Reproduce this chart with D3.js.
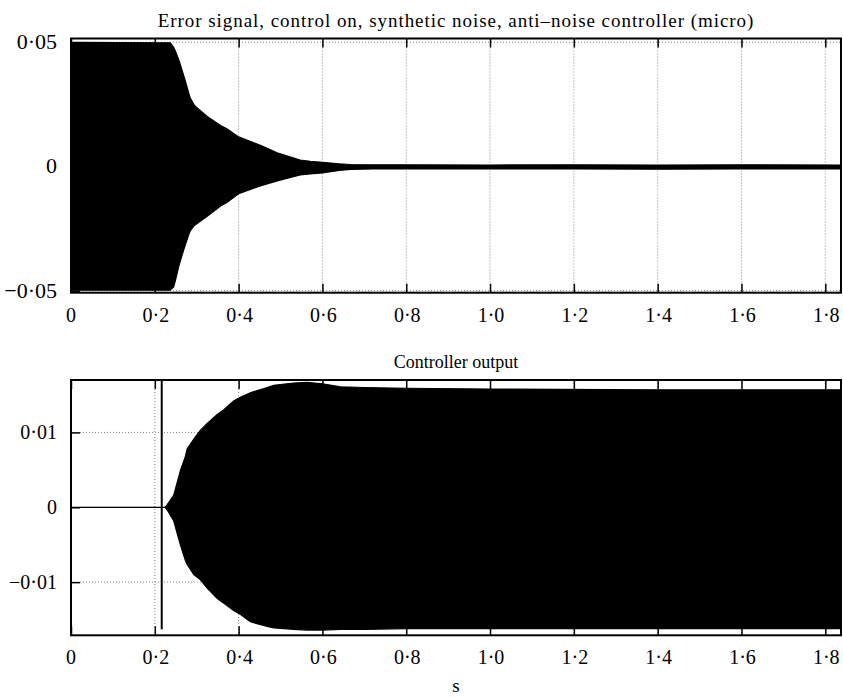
<!DOCTYPE html>
<html>
<head>
<meta charset="utf-8">
<script src="https://cdn.jsdelivr.net/npm/d3@7"></script>
<style>
  body { margin: 0; background: #fff; }
</style>
</head>
<body>
<div id="chart"></div>
<script>
// Error signal envelope
var errTime  = [0, 0.237, 0.245, 0.249, 0.257, 0.261, 0.269, 0.273, 0.281, 0.285, 0.293, 0.297, 0.325, 0.357, 0.372, 0.4, 0.452, 0.492, 0.547, 0.571, 0.6, 0.64, 0.667, 0.72, 0.8, 1.0, 1.2, 1.4, 1.6, 1.8375];
var errUpper = [0.0500, 0.0498, 0.0480, 0.0465, 0.0430, 0.0410, 0.0365, 0.0343, 0.0295, 0.0274, 0.0250, 0.0242, 0.0201, 0.0165, 0.0152, 0.0119, 0.0085, 0.0055, 0.0026, 0.0021, 0.0017, 0.0011, 0.0008, 0.0007, 0.0007, 0.0006, 0.0007, 0.0006, 0.0007, 0.0006];
var errLower = [-0.0498, -0.0498, -0.0485, -0.0460, -0.0403, -0.0380, -0.0335, -0.0315, -0.0274, -0.0258, -0.0240, -0.0235, -0.0200, -0.0159, -0.0145, -0.0110, -0.0078, -0.0058, -0.0034, -0.0030, -0.0026, -0.0016, -0.0012, -0.0010, -0.0010, -0.0010, -0.0010, -0.0011, -0.0010, -0.0010];

// Controller output envelope
var ctrlTime  = [0, 0.225, 0.229, 0.245, 0.261, 0.273, 0.277, 0.293, 0.309, 0.325, 0.349, 0.364, 0.388, 0.404, 0.428, 0.468, 0.484, 0.531, 0.563, 0.6, 0.643, 0.7, 0.8, 1.0, 1.4, 1.8375];
var ctrlUpper = [0, 0, 0.0003, 0.0016, 0.0049, 0.0068, 0.0078, 0.0091, 0.0103, 0.0112, 0.0124, 0.0130, 0.0142, 0.0147, 0.0153, 0.0160, 0.0163, 0.0166, 0.0167, 0.0165, 0.0161, 0.0160, 0.0159, 0.0158, 0.0157, 0.0157];
var ctrlLower = [0, 0, -0.0003, -0.0018, -0.0050, -0.0071, -0.0076, -0.0090, -0.0097, -0.0108, -0.0122, -0.0128, -0.0138, -0.0143, -0.0153, -0.0159, -0.0161, -0.0163, -0.0164, -0.0164, -0.0163, -0.0163, -0.0162, -0.0162, -0.0162, -0.0162];

// single switch-on spike in the controller output
var spikeTime = [0.2165];
var spikeHigh = [0.0170];
var spikeLow  = [-0.0163];

var xTicks = [0, 0.2, 0.4, 0.6, 0.8, 1.0, 1.2, 1.4, 1.6, 1.8];
var xTickLabels = ["0", "0·2", "0·4", "0·6", "0·8", "1·0", "1·2", "1·4", "1·6", "1·8"];
var errTicks = [-0.05, 0, 0.05];
var errTickLabels = ["−0·05", "0", "0·05"];
var ctrlTicks = [-0.01, 0, 0.01];
var ctrlTickLabels = ["−0·01", "0", "0·01"];

var svgWidth = 843;
var svgHeight = 697;
var left = 71, right = 841;
var serif = "Liberation Serif";

var svg = d3.select("#chart")
  .append("svg")
  .attr("width", svgWidth)
  .attr("height", svgHeight);

var x = d3.scaleLinear().domain([0, 1.8375]).range([left, right]);

function zip(t, hi, lo) {
  return t.map(function(d, i) { return {t: d, hi: hi[i], lo: lo[i]}; });
}

function panel(opts) {
  var y = d3.scaleLinear().domain(opts.domain).range([opts.bottom, opts.top]);
  var g = svg.append("g");

  // grid
  g.selectAll(".vgrid")
    .data(xTicks.slice(1))
    .enter().append("line")
    .attr("x1", d => x(d)).attr("x2", d => x(d))
    .attr("y1", opts.top).attr("y2", opts.bottom)
    .attr("stroke", "#888").attr("stroke-width", 1)
    .attr("stroke-dasharray", "1,2");
  g.selectAll(".hgrid")
    .data(opts.ticks)
    .enter().append("line")
    .attr("x1", left).attr("x2", right)
    .attr("y1", d => y(d)).attr("y2", d => y(d))
    .attr("stroke", "#888").attr("stroke-width", 1)
    .attr("stroke-dasharray", "1,2");

  // signal envelope
  var area = d3.area()
    .x(d => x(d.t))
    .y0(d => y(d.lo))
    .y1(d => y(d.hi));
  g.append("path")
    .datum(zip(opts.t, opts.hi, opts.lo))
    .attr("d", area)
    .attr("fill", "#000")
    .attr("stroke", "#000")
    .attr("stroke-width", 1.2);

  if (opts.spike) {
    g.selectAll(".spike")
      .data(opts.spike)
      .enter().append("line")
      .attr("x1", d => x(d.t)).attr("x2", d => x(d.t))
      .attr("y1", d => y(d.hi)).attr("y2", d => y(d.lo))
      .attr("stroke", "#000").attr("stroke-width", 2);
  }

  // frame
  g.append("rect")
    .attr("x", left).attr("y", opts.top)
    .attr("width", right - left).attr("height", opts.bottom - opts.top)
    .attr("fill", "none").attr("stroke", "#000").attr("stroke-width", 2);

  // inward ticks
  var xAxis = d3.axisTop(x).tickValues(xTicks).tickSize(9).tickFormat("");
  var ax = g.append("g").attr("transform", `translate(0,${opts.bottom})`).call(xAxis);
  ax.select(".domain").remove();
  var xAxisT = d3.axisBottom(x).tickValues(xTicks).tickSize(9).tickFormat("");
  var axt = g.append("g").attr("transform", `translate(0,${opts.top})`).call(xAxisT);
  axt.select(".domain").remove();
  var yAxis = d3.axisRight(y).tickValues(opts.ticks).tickSize(9).tickFormat("");
  var ay = g.append("g").attr("transform", `translate(${left},0)`).call(yAxis);
  ay.select(".domain").remove();
  g.selectAll(".tick line").attr("stroke", "#000").attr("stroke-width", 1.5);

  // tick labels
  g.selectAll(".xlab")
    .data(xTicks)
    .enter().append("text")
    .attr("x", (d, i) => x(d) + (i == 0 ? 0 : 1))
    .attr("y", opts.bottom + 29)
    .attr("text-anchor", "middle")
    .attr("font-family", serif)
    .attr("font-size", 20)
    .text((d, i) => xTickLabels[i]);
  g.selectAll(".ylab")
    .data(opts.ticks)
    .enter().append("text")
    .attr("x", 57)
    .attr("y", d => y(d) + 7)
    .attr("text-anchor", "end")
    .attr("font-family", serif)
    .attr("font-size", opts.ySize)
    .text((d, i) => opts.labels[i]);

  svg.append("text")
    .attr("x", (left + right) / 2)
    .attr("y", opts.top - 12)
    .attr("text-anchor", "middle")
    .attr("font-family", serif)
    .attr("font-size", opts.titleSize)
    .attr("letter-spacing", opts.spacing)
    .text(opts.title);
}

panel({
  top: 38.5, bottom: 292.7, domain: [-0.0508, 0.0515],
  t: errTime, hi: errUpper, lo: errLower,
  ticks: errTicks, labels: errTickLabels, ySize: 22,
  title: "Error signal, control on, synthetic noise, anti–noise controller (micro)",
  titleSize: 19, spacing: 0.95
});

panel({
  top: 380, bottom: 635.3, domain: [-0.0171, 0.0170],
  t: ctrlTime, hi: ctrlUpper, lo: ctrlLower,
  spike: zip(spikeTime, spikeHigh, spikeLow),
  ticks: ctrlTicks, labels: ctrlTickLabels, ySize: 20,
  title: "Controller output",
  titleSize: 18, spacing: 0
});

svg.append("text")
  .attr("x", (left + right) / 2)
  .attr("y", 692)
  .attr("text-anchor", "middle")
  .attr("font-family", serif)
  .attr("font-size", 19)
  .text("s");
</script>
</body>
</html>
